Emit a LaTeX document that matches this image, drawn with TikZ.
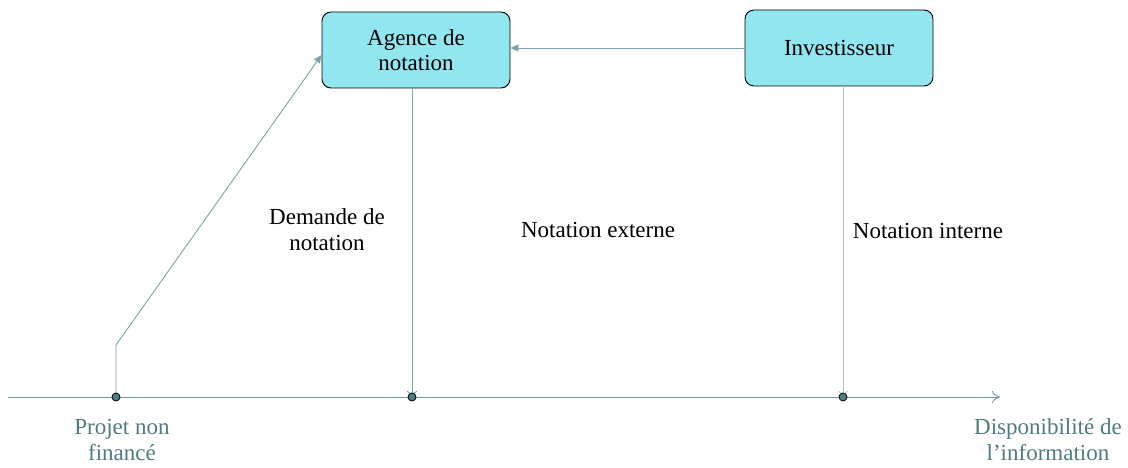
\documentclass[tikz,border=0pt]{standalone}
\usepackage{fontspec}
\setmainfont{Liberation Serif}
\usetikzlibrary{arrows.meta}
\definecolor{cyanclair}{RGB}{146,230,240}
\definecolor{gristeal}{RGB}{80,122,128}
\definecolor{axec}{RGB}{115,152,158}
\definecolor{flechec}{RGB}{125,162,168}
\definecolor{clair}{RGB}{172,200,205}
\definecolor{pointc}{RGB}{78,126,134}
\begin{document}
\begin{tikzpicture}[x=1pt,y=-1pt,
  boite/.style={draw=black, fill=cyanclair, rounded corners=9pt, minimum width=188pt, minimum height=76pt, align=center, font=\fontsize{23}{25}\selectfont, line width=0.9pt},
  point/.style={circle, draw=black, fill=pointc, inner sep=0pt, minimum size=8pt, line width=0.8pt},
  etiq/.style={align=center, font=\fontsize{23}{26}\selectfont},
  etiqaxe/.style={etiq, text=gristeal}]
\useasboundingbox (0,0) rectangle (1128,468);
\node[boite] (agence) at (416,50) {Agence de\\notation};
\node[boite] (invest) at (839,48) {Investisseur};
\coordinate (debut) at (8,397);
\coordinate (fin) at (1000,397);
\coordinate (p1) at (116,397);
\coordinate (p2) at (412,397);
\coordinate (p3) at (843,397);
\coordinate (coude) at (116,345);
% axe
\draw[axec, line width=0.9pt, -{To[length=8pt,width=12pt]}] (debut) -- (fin);
% fleches
\draw[flechec, line width=0.9pt, -{Triangle[length=8pt,width=7pt]}] (invest.west) -- (invest.west -| agence.east);
\draw[flechec, line width=0.9pt, -{Triangle[length=8pt,width=7pt]}] (p1) -- (coude) -- ([yshift=-5pt]agence.west);
\draw[flechec, line width=0.9pt, -{To[length=6pt,width=10pt]}] (agence.south -| p2) -- (p2);
\draw[clair, line width=0.9pt, -{To[length=6pt,width=10pt]}] (invest.south -| p3) -- (p3);
\node[point] at (p1) {};
\node[point] at (p2) {};
\node[point] at (p3) {};
% textes
\node[etiq] (demande) at (327,230) {Demande de\\notation};
\node[etiq] (externe) at (598,230) {Notation externe};
\node[etiq] (interne) at (928,231) {Notation interne};
\node[etiqaxe] (projet) at (122,440) {Projet non\\financé};
\node[etiqaxe] (dispo) at (1048,440) {Disponibilité de\\l’information};
\end{tikzpicture}
\end{document}
